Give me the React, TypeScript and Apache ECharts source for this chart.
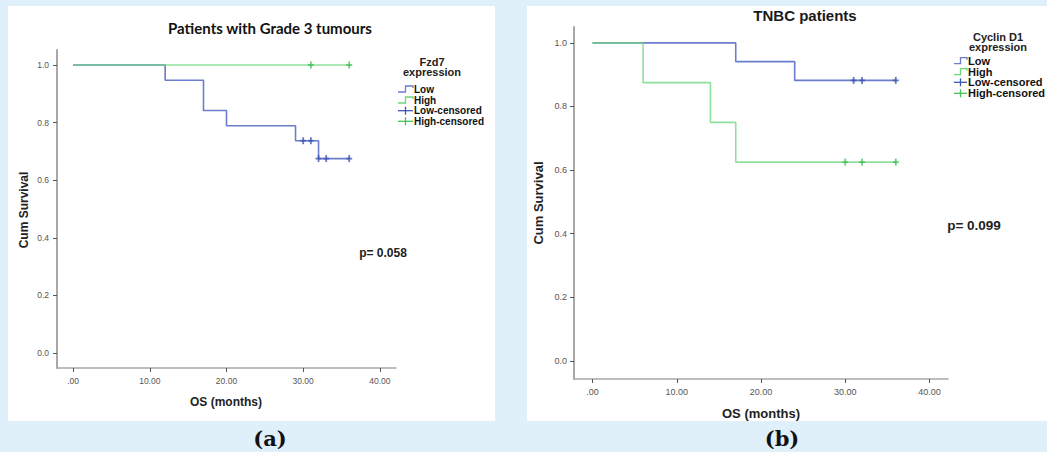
import React, { useEffect, useRef } from "react";
import * as echarts from "echarts";

// ---- data ----
const xTicks = [0, 10, 20, 30, 40];
const yTicks = [0, 0.2, 0.4, 0.6, 0.8, 1.0];

// (a) Patients with Grade 3 tumours — Fzd7 expression
const aLowTime = [0, 12, 17, 20, 29, 32, 36];
const aLowSurv = [1.0, 0.947, 0.842, 0.789, 0.737, 0.675, 0.675];
const aLowCensTime = [30, 31, 32, 33, 36];
const aLowCensSurv = [0.737, 0.737, 0.675, 0.675, 0.675];
const aHighTime = [0, 36];
const aHighSurv = [1.0, 1.0];
const aHighCensTime = [31, 36];
const aHighCensSurv = [1.0, 1.0];

// (b) TNBC patients — Cyclin D1 expression
const bLowTime = [0, 17, 24, 36];
const bLowSurv = [1.0, 0.941, 0.882, 0.882];
const bLowCensTime = [31, 32, 36];
const bLowCensSurv = [0.882, 0.882, 0.882];
const bHighTime = [0, 6, 14, 17, 36];
const bHighSurv = [1.0, 0.875, 0.75, 0.625, 0.625];
const bHighCensTime = [30, 32, 36];
const bHighCensSurv = [0.625, 0.625, 0.625];

const legendItems = ["Low", "High", "Low-censored", "High-censored"];

const BLUE = "#6b7dcc";
const BLUE_D = "#3f57b3";
const GREEN = "#6cd67c";
const GREEN_D = "#47c05a";
const SANS = '"Liberation Sans", Arial, sans-serif';

const zip = (t: number[], s: number[]) => t.map((v, i) => [v, s[i]]);

function xAxis(grid: number, min: number, max: number, fs: number, margin: number) {
  return {
    gridIndex: grid,
    type: "value",
    min,
    max,
    axisLine: { show: true, onZero: false, lineStyle: { color: "#a8a8a8", width: 1.5 } },
    axisTick: { show: true, length: 4, customValues: xTicks, lineStyle: { color: "#555", width: 1 } },
    axisLabel: {
      customValues: xTicks,
      formatter: (v: number) => (v === 0 ? ".00" : v.toFixed(2)),
      fontSize: fs,
      color: "#555",
      margin,
      fontFamily: SANS,
    },
    splitLine: { show: false },
  };
}

function yAxis(grid: number, min: number, max: number, fs: number, margin: number) {
  return {
    gridIndex: grid,
    type: "value",
    min,
    max,
    axisLine: { show: true, onZero: false, lineStyle: { color: "#a8a8a8", width: 2 } },
    axisTick: { show: true, length: 4, customValues: yTicks, lineStyle: { color: "#555", width: 1 } },
    axisLabel: {
      customValues: yTicks,
      formatter: (v: number) => v.toFixed(1),
      fontSize: fs,
      color: "#555",
      margin,
      fontFamily: SANS,
    },
    splitLine: { show: false },
  };
}

function stepSeries(grid: number, t: number[], s: number[], color: string, opacity = 1) {
  return {
    type: "line",
    xAxisIndex: grid,
    yAxisIndex: grid,
    step: "end",
    showSymbol: false,
    symbol: "none",
    data: zip(t, s),
    lineStyle: { color, width: 1.6, opacity },
    z: 2,
  };
}

function censSeries(grid: number, t: number[], s: number[], color: string) {
  return [
    {
      type: "scatter",
      xAxisIndex: grid,
      yAxisIndex: grid,
      symbol: "rect",
      symbolSize: [1.8, 7],
      data: zip(t, s),
      itemStyle: { color },
      z: 3,
    },
    {
      type: "scatter",
      xAxisIndex: grid,
      yAxisIndex: grid,
      symbol: "rect",
      symbolSize: [6, 1.8],
      data: zip(t, s),
      itemStyle: { color },
      z: 3,
    },
  ];
}

function txt(text: string, x: number, y: number, font: string, fill = "#222", align = "center", rotation = 0) {
  return {
    type: "text",
    x,
    y,
    rotation,
    z: 10,
    style: { text, font, fill, textAlign: align, textVerticalAlign: "middle" },
  };
}

function legend(x0: number, x1: number, ys: number[], font: string) {
  const els: any[] = [];
  const colors = [BLUE, GREEN, BLUE_D, GREEN_D];
  legendItems.forEach((name, i) => {
    const y = ys[i];
    const c = colors[i];
    const w = x1 - x0;
    if (i < 2) {
      els.push({
        type: "polyline",
        z: 10,
        shape: { points: [[x0, y + 3], [x0 + w * 0.5, y + 3], [x0 + w * 0.5, y - 3], [x1, y - 3], [x1, y - 1]] },
        style: { stroke: c, lineWidth: 1.3, fill: "none" },
      });
    } else {
      els.push({ type: "line", z: 10, shape: { x1: x0, y1: y, x2: x1, y2: y }, style: { stroke: c, lineWidth: 1.3 } });
      const xm = (x0 + x1) / 2;
      els.push({ type: "line", z: 10, shape: { x1: xm, y1: y - 4, x2: xm, y2: y + 4 }, style: { stroke: c, lineWidth: 1.3 } });
    }
    els.push(txt(name, x1 + 1, y, font, "#111", "left"));
  });
  return els;
}

export default function App() {
  const ref = useRef<HTMLDivElement>(null);
  useEffect(() => {
    if (!ref.current) return;
    const chart = echarts.init(ref.current, null, { renderer: "svg" });
    const option: any = {
      animation: false,
      backgroundColor: "#dff0fa",
      grid: [
        { left: 57, top: 50, width: 339, height: 318 },
        { left: 574, top: 27, width: 374, height: 352 },
      ],
      xAxis: [xAxis(0, -2.1, 42.1, 8.5, 8), xAxis(1, -2.2, 42.2, 9, 8)],
      yAxis: [yAxis(0, -0.052, 1.052, 8.5, 8), yAxis(1, -0.057, 1.05, 9, 7)],
      series: [
        stepSeries(0, aLowTime, aLowSurv, BLUE),
        stepSeries(0, aHighTime, aHighSurv, GREEN, 0.75),
        ...censSeries(0, aLowCensTime, aLowCensSurv, BLUE_D),
        ...censSeries(0, aHighCensTime, aHighCensSurv, GREEN_D),
        stepSeries(1, bLowTime, bLowSurv, BLUE),
        stepSeries(1, bHighTime, bHighSurv, GREEN, 0.75),
        ...censSeries(1, bLowCensTime, bLowCensSurv, BLUE_D),
        ...censSeries(1, bHighCensTime, bHighCensSurv, GREEN_D),
      ],
      graphic: [
        { type: "rect", z: -10, shape: { x: 8, y: 6, width: 487, height: 415 }, style: { fill: "#ffffff" } },
        { type: "rect", z: -10, shape: { x: 527, y: 6, width: 520, height: 415 }, style: { fill: "#ffffff" } },
        // panel (a)
        txt("Patients with Grade 3 tumours", 270, 28, 'bold 15px Lato, sans-serif', "#111"),
        txt("Fzd7", 432, 62, `bold 11px ${SANS}`, "#222"),
        txt("expression", 432, 72, `bold 11px ${SANS}`, "#222"),
        ...legend(398, 413, [89, 100, 110.7, 121.3], `bold 10px ${SANS}`),
        txt("Cum Survival", 24, 210, `bold 12px ${SANS}`, "#222", "center", Math.PI / 2),
        txt("p= 0.058", 383, 252.5, `bold 12px ${SANS}`, "#222"),
        txt("OS (months)", 226, 402, `bold 12px ${SANS}`, "#222"),
        txt("(a)", 270, 438, 'bold 21px "DejaVu Serif", serif', "#111"),
        // panel (b)
        txt("TNBC patients", 805, 15, `bold 15px ${SANS}`, "#1a1a1a"),
        txt("Cyclin D1", 998, 37, `bold 11px ${SANS}`, "#222"),
        txt("expression", 998, 47, `bold 11px ${SANS}`, "#222"),
        ...legend(954, 967, [60.7, 71.7, 82.3, 93.3], `bold 11px ${SANS}`),
        txt("Cum Survival", 538, 203, `bold 13px ${SANS}`, "#222", "center", Math.PI / 2),
        txt("p= 0.099", 974, 225, `bold 13.5px ${SANS}`, "#222"),
        txt("OS (months)", 761, 413, `bold 13px ${SANS}`, "#222"),
        txt("(b)", 782, 438, 'bold 21px "DejaVu Serif", serif', "#111"),
      ],
    };
    chart.setOption(option);
    return () => chart.dispose();
  }, []);
  return <div ref={ref} style={{ position: "fixed", left: 0, top: 0, width: 1047, height: 452 }} />;
}
